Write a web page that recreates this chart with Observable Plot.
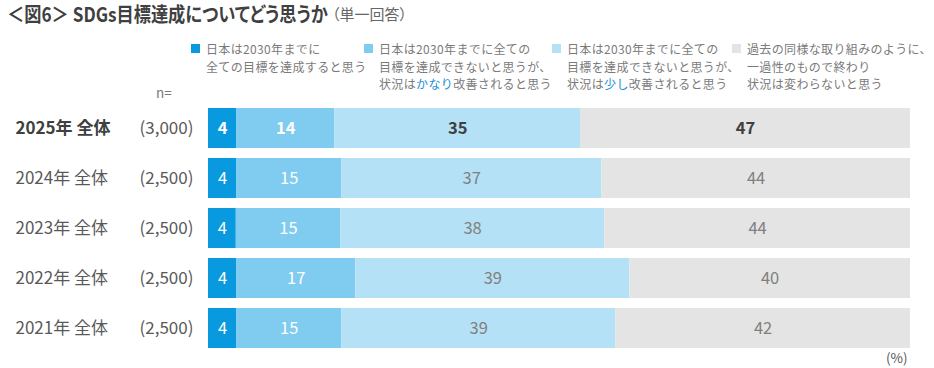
<!DOCTYPE html>
<html><head><meta charset="utf-8">
<script src="https://cdn.jsdelivr.net/npm/d3@7"></script>
<script src="https://cdn.jsdelivr.net/npm/@observablehq/plot@0.6"></script>
<style>
body{margin:0;background:#fff;font-family:"Noto Sans CJK JP","Noto Sans",sans-serif;}
#wrap{position:relative;width:934px;height:368px;}
#wrap svg{position:absolute;left:0;top:0;}
.ov{position:absolute;white-space:nowrap;}
#title{left:7px;top:-1px;font-size:20px;font-weight:bold;color:#404040;font-feature-settings:"palt";transform:scaleX(0.86);transform-origin:0 0;}
#sub{left:332px;top:3px;font-size:15px;color:#666;font-feature-settings:"palt";}
.leg{position:absolute;top:40px;font-size:12px;letter-spacing:0.35px;line-height:17.5px;color:#7a7a7a;white-space:nowrap;}
.leg .sw{position:absolute;left:-15px;top:4px;width:9px;height:9px;}
.hl{color:#1a8fd6;}
#nlab{left:156px;top:82px;font-size:13.5px;color:#7a7a7a;}
#pct{left:886px;top:347px;font-size:13.5px;color:#595959;}
</style></head>
<body><div id="wrap"></div>
<script>
const years = ["2025年 全体","2024年 全体","2023年 全体","2022年 全体","2021年 全体"];
const nLabels = ["(3,000)","(2,500)","(2,500)","(2,500)","(2,500)"];
const categories = ["達成する","かなり改善","少し改善","変わらない"];
const achieve   = [4,4,4,4,4];
const greatly   = [14,15,15,17,15];
const slightly  = [35,37,38,39,39];
const unchanged = [47,44,44,40,42];
const colors = ["#0899DE","#80CBF0","#B5E1F6","#E4E4E4"];
const legendLines = [
  ["日本は2030年までに","全ての目標を達成すると思う"],
  ["日本は2030年までに全ての","目標を達成できないと思うが、","状況は[かなり]改善されると思う"],
  ["日本は2030年までに全ての","目標を達成できないと思うが、","状況は[少し]改善されると思う"],
  ["過去の同様な取り組みのように、","一過性のもので終わり","状況は変わらないと思う"]
];
const legendX = [206, 379, 567, 747];

const series = [achieve, greatly, slightly, unchanged];
const table = [];
years.forEach((y, i) => series.forEach((s, j) => table.push({year: y, cat: categories[j], ci: j, value: s[i], first: i === 0})));
const rows = years.map((y, i) => ({year: y, n: nLabels[i], first: i === 0}));

const txtFill = d => d.ci < 2 ? "#ffffff" : (d.first ? "#404040" : "#808080");
const font = '"Noto Sans CJK JP","Noto Sans",sans-serif';

const chart = Plot.plot({
  width: 934, height: 368,
  marginLeft: 208, marginRight: 24, marginTop: 102, marginBottom: 14.75,
  style: {fontFamily: font, background: "transparent"},
  x: {domain: [0, 1], axis: null},
  y: {domain: years, axis: null, paddingInner: 0.2, paddingOuter: 0.1},
  color: {domain: categories, range: colors},
  marks: [
    Plot.barX(table, {x: "value", y: "year", fill: "cat", order: categories, offset: "normalize"}),
    Plot.text(table.filter(d => d.first), Plot.stackX({x: "value", y: "year", z: "cat", order: categories, offset: "normalize", text: d => String(d.value), fill: txtFill, fontSize: 16.5, fontWeight: "bold"})),
    Plot.text(table.filter(d => !d.first), Plot.stackX({x: "value", y: "year", z: "cat", order: categories, offset: "normalize", text: d => String(d.value), fill: txtFill, fontSize: 16.5})),
    Plot.text(rows.filter(d => d.first), {y: "year", text: "year", frameAnchor: "left", textAnchor: "start", dx: -193, fontSize: 17, fontWeight: "bold", fill: "#404040"}),
    Plot.text(rows.filter(d => !d.first), {y: "year", text: "year", frameAnchor: "left", textAnchor: "start", dx: -193, fontSize: 17, fill: "#595959"}),
    Plot.text(rows, {y: "year", text: "n", frameAnchor: "left", textAnchor: "end", dx: -15, fontSize: 17, fill: "#595959"})
  ]
});
const wrap = document.getElementById("wrap");
wrap.appendChild(chart);

function ov(id, html){const d=document.createElement("div");d.className="ov";d.id=id;d.innerHTML=html;wrap.appendChild(d);}
ov("title", "＜図6＞ SDGs目標達成についてどう思うか");
ov("sub", "（単一回答）");
ov("nlab", "n=");
ov("pct", "(%)");
legendLines.forEach((lines, i) => {
  const d = document.createElement("div");
  d.className = "leg";
  d.style.left = legendX[i] + "px";
  d.innerHTML = `<div class="sw" style="background:${colors[i]}"></div>` +
    lines.map(l => l.replace(/\[(.+?)\]/, '<span class="hl">$1</span>')).join("<br>");
  wrap.appendChild(d);
});
</script></body></html>
